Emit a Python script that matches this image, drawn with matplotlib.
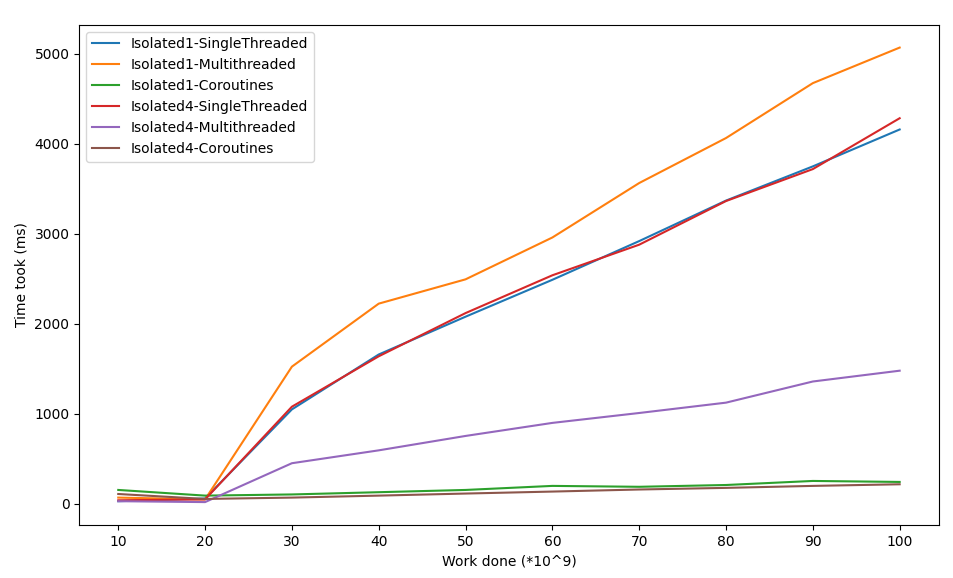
import matplotlib
matplotlib.use("Agg")
import matplotlib.pyplot as plt

work = [10, 20, 30, 40, 50, 60, 70, 80, 90, 100]

iso1_single = [30, 60, 1050, 1660, 2080, 2490, 2920, 3370, 3750, 4160]
iso1_multi = [70, 50, 1525, 2225, 2495, 2960, 3565, 4065, 4675, 5070]
iso1_coro = [155, 92, 105, 130, 155, 200, 190, 210, 255, 244]
iso4_single = [40, 50, 1080, 1640, 2120, 2540, 2880, 3365, 3720, 4285]
iso4_multi = [30, 20, 452, 595, 755, 900, 1010, 1125, 1360, 1480]
iso4_coro = [110, 55, 70, 92, 115, 137, 160, 178, 200, 218]

series = [
    ("Isolated1-SingleThreaded", iso1_single),
    ("Isolated1-Multithreaded", iso1_multi),
    ("Isolated1-Coroutines", iso1_coro),
    ("Isolated4-SingleThreaded", iso4_single),
    ("Isolated4-Multithreaded", iso4_multi),
    ("Isolated4-Coroutines", iso4_coro),
]

fig, ax = plt.subplots(figsize=(9.54, 5.78), dpi=100)
fig.subplots_adjust(left=0.083, right=0.984, top=0.957, bottom=0.092)

for name, vals in series:
    ax.plot(work, vals, label=name)

ax.set_xticks(work)
ax.set_xlabel("Work done (*10^9)")
ax.set_ylabel("Time took (ms)")
ax.legend(loc="upper left")

fig.savefig("out.png")
